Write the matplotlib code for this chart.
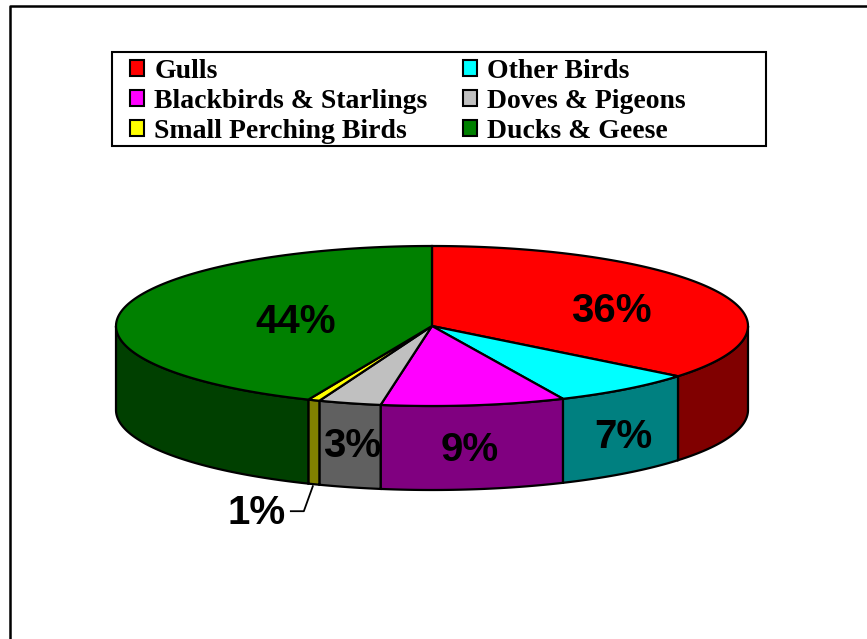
import numpy as np
import matplotlib.pyplot as plt
from matplotlib.patches import Polygon, Patch, Rectangle

# Data (percent of total)
categories = ["Gulls", "Other Birds", "Blackbirds & Starlings",
              "Doves & Pigeons", "Small Perching Birds", "Ducks & Geese"]
shares = [35.8, 7.4, 9.4, 3.2, 0.6, 43.6]
top_colors = ["#FF0000", "#00FFFF", "#FF00FF", "#C0C0C0", "#FFFF00", "#008000"]
side_colors = ["#800000", "#008080", "#800080", "#606060", "#808000", "#004000"]

# label placement: radius fraction and drop (px) below the top face
label_r = [0.63, 0.99, 0.91, 0.97, 1.0, 0.44]
label_dz = [7, 48, 52, 45, 84, 3]

# 3D pie geometry in pixels
cx, cy, a, b, depth = 432, 326, 316, 80, 84


def pt(theta, r=1.0, dz=0.0):
    t = np.radians(theta)
    return cx + r * a * np.sin(t), cy - r * b * np.cos(t) + dz


fig = plt.figure(figsize=(8.67, 6.39), dpi=100)
ax = fig.add_axes([0, 0, 1, 1])
ax.set_xlim(0, 867)
ax.set_ylim(639, 0)
ax.axis("off")

# chart frame (only left and top edges are visible)
ax.plot([10, 10, 867], [639, 6, 6], color="black", lw=1.8, solid_capstyle="projecting")

total = sum(shares)
angles = np.cumsum([0] + [s / total * 360 for s in shares])

# side walls first (front half only)
for i in range(len(shares)):
    lo, hi = max(angles[i], 90), min(angles[i + 1], 270)
    if hi <= lo:
        continue
    th = np.linspace(lo, hi, 80)
    xt, yt = pt(th)
    xb, yb = pt(th[::-1], dz=depth)
    poly = np.column_stack([np.r_[xt, xb], np.r_[yt, yb]])
    ax.add_patch(Polygon(poly, closed=True, fc=side_colors[i], ec="black", lw=1.6, zorder=2))

# top faces
for i in range(len(shares)):
    th = np.linspace(angles[i], angles[i + 1], 120)
    xt, yt = pt(th)
    poly = np.column_stack([np.r_[cx, xt], np.r_[cy, yt]])
    ax.add_patch(Polygon(poly, closed=True, fc=top_colors[i], ec="black", lw=1.6, zorder=3))

# percentage labels
lab_font = dict(family="Liberation Sans", weight="bold", size=29, color="black")
for i, s in enumerate(shares):
    mid = (angles[i] + angles[i + 1]) / 2
    txt = f"{round(s)}%"
    if categories[i] == "Small Perching Birds":
        x0, y0 = pt(mid, 1.0, depth)
        ax.plot([x0 - 1, x0 - 10, x0 - 23], [y0 + 2, y0 + 27, y0 + 27],
                color="black", lw=1.3, zorder=4)
        ax.text(x0 - 28, y0 + 29, txt, ha="right", va="center", zorder=5, **lab_font)
    else:
        x, y = pt(mid, label_r[i], label_dz[i])
        ax.text(x, y, txt, ha="center", va="center", zorder=5, **lab_font)

# legend box (drawn separately to get Excel's wide right margin)
ax.add_patch(Rectangle((112, 52), 654, 94, fill=False, ec="black", lw=1.5, zorder=6))

# legend entries (column-first order to match the two-column layout)
order = [0, 2, 4, 1, 3, 5]
handles = [Patch(fc=top_colors[k], ec="black", lw=1.5) for k in order]
leg = ax.legend(handles, [categories[k] for k in order], ncol=2,
                loc="upper left", bbox_to_anchor=(130 / 867, 1 - 59 / 639),
                prop=dict(family="Liberation Serif", weight="bold", size=20),
                frameon=False,
                handlelength=0.5, handleheight=0.5, handletextpad=0.38,
                labelspacing=0.18, columnspacing=1.27, borderpad=0,
                borderaxespad=0)

fig.savefig("out.png", dpi=100)
